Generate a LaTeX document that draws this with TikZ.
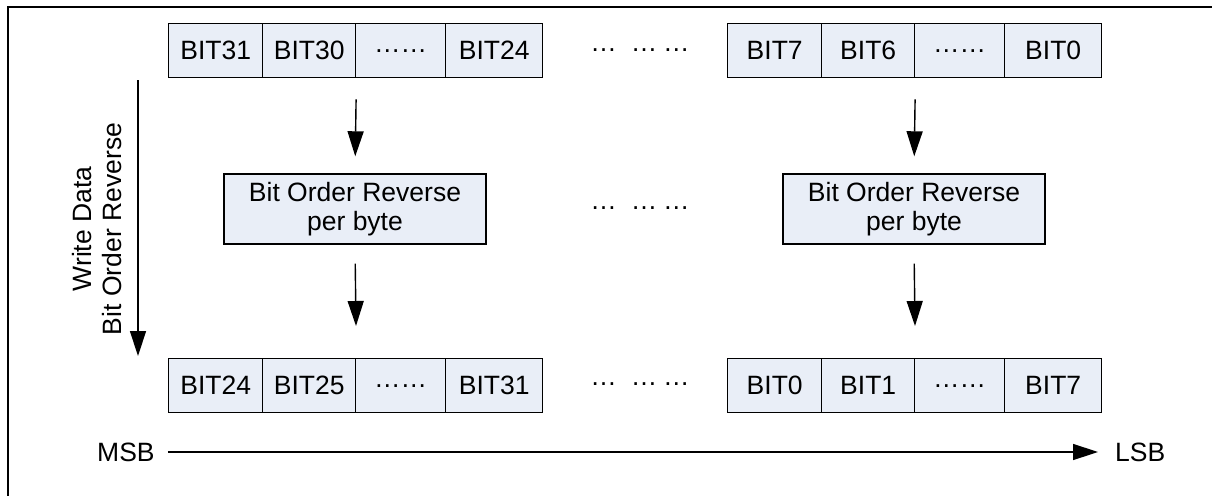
\documentclass[tikz,border=0pt]{standalone}
\usepackage{fontspec}
\setmainfont{Liberation Sans}
\usetikzlibrary{arrows.meta}
\definecolor{cellfill}{RGB}{233,238,247}
\begin{document}
\begin{tikzpicture}[x=1pt,y=-1pt,
  every node/.style={font=\fontsize{26.5}{29.5}\selectfont, inner sep=0pt},
  cell/.style={draw=black, line width=1.4pt, fill=cellfill, minimum height=54pt, anchor=north west},
  revbox/.style={draw=black, line width=1.4pt, fill=cellfill, minimum width=262pt, minimum height=70pt, align=center},
  arr/.style={line width=1.4pt, -{Triangle[length=25pt,width=16pt]}}
]
\useasboundingbox (0,0) rectangle (1212,495);
\draw[line width=2pt] (8,7) rectangle (1260,540);
% top row left
\node[cell, minimum width=94pt] (ta1) at (168,23) {BIT31};
\node[cell, minimum width=93pt] (ta2) at (262,23) {BIT30};
\node[cell, minimum width=90pt] (ta3) at (355,23) {……};
\node[cell, minimum width=97pt] (ta4) at (445,23) {BIT24};
% top row right
\node[cell, minimum width=94pt] (tb1) at (727,23) {BIT7};
\node[cell, minimum width=93pt] (tb2) at (821,23) {BIT6};
\node[cell, minimum width=90pt] (tb3) at (914,23) {……};
\node[cell, minimum width=97pt] (tb4) at (1004,23) {BIT0};
% bottom row left
\node[cell, minimum width=94pt] (ba1) at (168,358) {BIT24};
\node[cell, minimum width=93pt] (ba2) at (262,358) {BIT25};
\node[cell, minimum width=90pt] (ba3) at (355,358) {……};
\node[cell, minimum width=97pt] (ba4) at (445,358) {BIT31};
% bottom row right
\node[cell, minimum width=94pt] (bb1) at (727,358) {BIT0};
\node[cell, minimum width=93pt] (bb2) at (821,358) {BIT1};
\node[cell, minimum width=90pt] (bb3) at (914,358) {……};
\node[cell, minimum width=97pt] (bb4) at (1004,358) {BIT7};
% middle boxes
\node[revbox] (ma) at (355,209) {Bit Order Reverse\\per byte};
\node[revbox] (mb) at (914,209) {Bit Order Reverse\\per byte};
% dots
\node (d1) at (640,50) {…\hspace{14pt}…\hspace{6pt}…};
\node (d2) at (640,208) {…\hspace{14pt}…\hspace{6pt}…};
\node (d3) at (640,384) {…\hspace{14pt}…\hspace{6pt}…};
% arrows
\draw[arr, shorten <=21pt, shorten >=17pt] (ta2.south east) -- (ma.north);
\draw[arr, shorten <=21pt, shorten >=17pt] (tb2.south east) -- (mb.north);
\draw[arr, shorten <=19pt, shorten >=32pt] (ma.south) -- (ba2.north east);
\draw[arr, shorten <=19pt, shorten >=32pt] (mb.south) -- (bb2.north east);
% left vertical
\coordinate (wtop) at (138,80);
\coordinate (wbot) at (138,356);
\draw[arr] (wtop) -- (wbot);
\node[rotate=90, align=center] (wl) at (97,229) {Write Data\\Bit Order Reverse};
% MSB LSB
\node[anchor=west] (msb) at (97,452) {MSB};
\node[anchor=west] (lsb) at (1115,452) {LSB};
\draw[arr, shorten <=13pt, shorten >=17pt] (msb.east) -- (lsb.west);
\end{tikzpicture}
\end{document}
